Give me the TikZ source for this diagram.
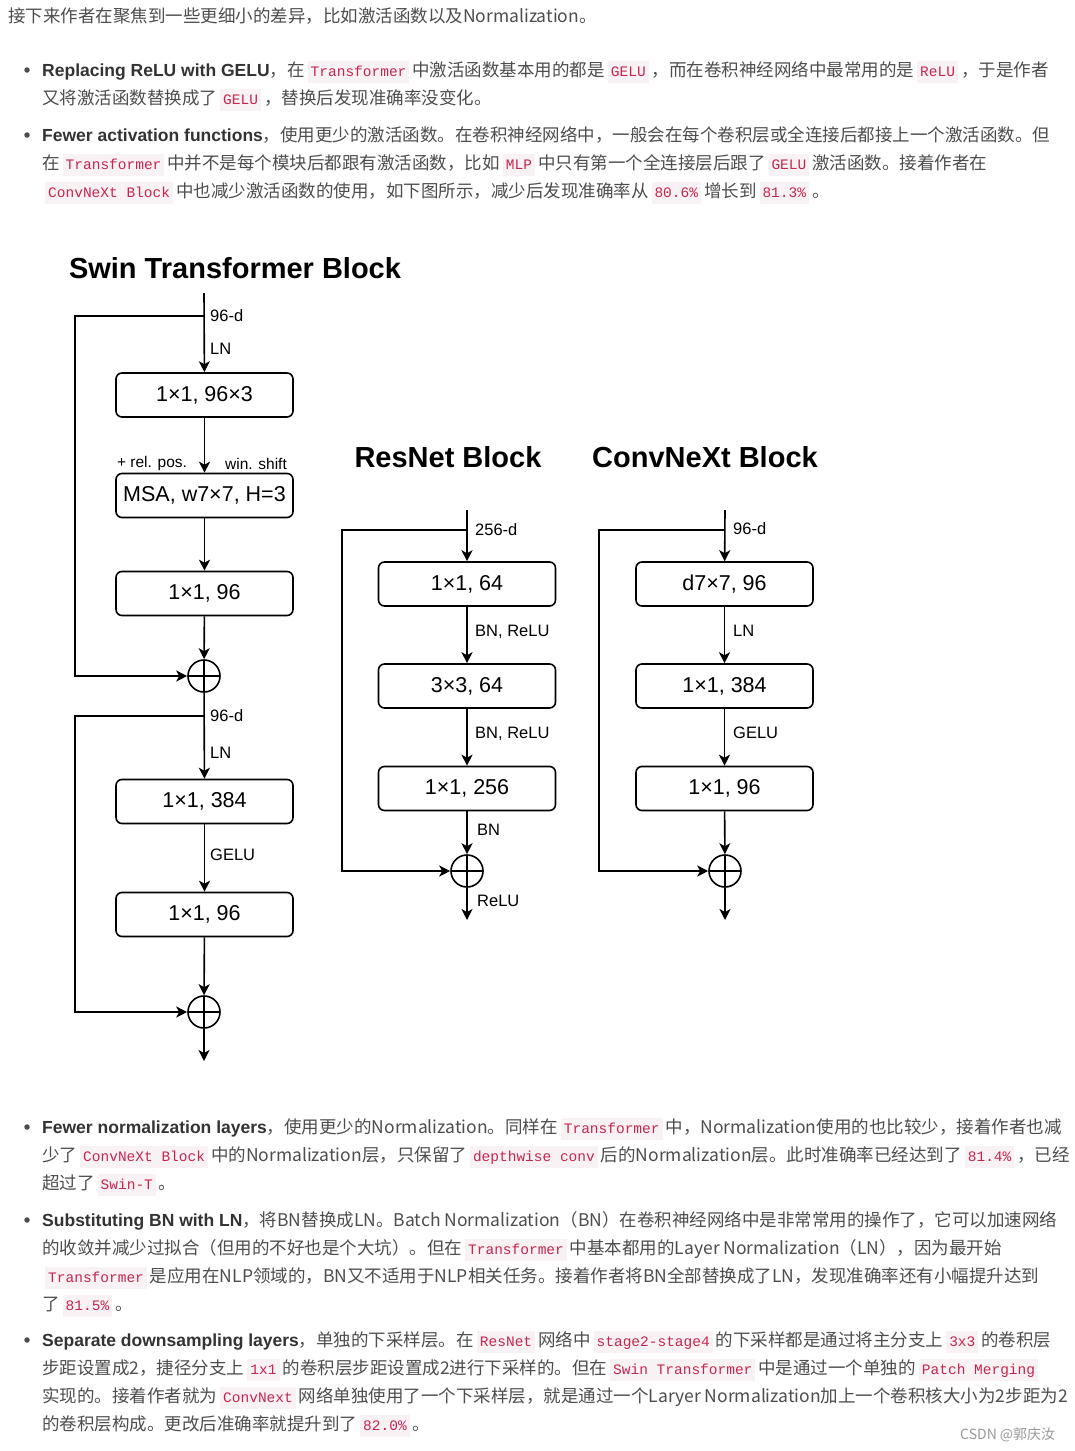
\documentclass[tikz,border=0pt]{standalone}
\usepackage{fontspec}
\setmainfont{Noto Sans CJK SC}
\setmonofont{Liberation Mono}
\newfontfamily\arialfont{Liberation Sans}
\usetikzlibrary{arrows.meta}

\definecolor{bodytext}{HTML}{4D4D4D}
\definecolor{leadtext}{HTML}{333333}
\definecolor{codefg}{HTML}{C7254E}
\definecolor{codebg}{HTML}{F9F2F4}
\definecolor{marktext}{HTML}{999999}

\newcommand\kode[1]{\hspace{3pt}{\setlength\fboxsep{3pt}\colorbox{codebg}{\ttfamily\fontsize{14.5}{16}\selectfont\color{codefg}\vrule height 13pt depth 3pt width 0pt\relax#1}}\hspace{3pt}}
\newcommand\leadin[1]{{\arialfont\bfseries\color{leadtext}#1}}

\begin{document}
\begin{tikzpicture}[x=1pt,y=-1pt,
  txt/.style={anchor=base west,inner sep=0,text=bodytext,font=\fontsize{17.5}{20}\selectfont},
  dot/.style={circle,fill=bodytext,inner sep=0,minimum size=5.5pt},
  ttl/.style={inner sep=0,font=\arialfont\bfseries\fontsize{29}{32}\selectfont},
  blk/.style={draw,rounded corners=6pt,line width=1.6pt,minimum width=177pt,minimum height=44pt,inner sep=0,
    font=\arialfont\fontsize{21.5}{24}\selectfont},
  sum/.style={draw,circle,line width=1.6pt,minimum size=32pt,inner sep=0,
    path picture={\draw[line width=1.6pt] (path picture bounding box.north) -- (path picture bounding box.south)
      (path picture bounding box.west) -- (path picture bounding box.east);}},
  lbl/.style={anchor=west,inner sep=0,font=\arialfont\fontsize{16.5}{18}\selectfont},
  small/.style={inner sep=0,font=\arialfont\fontsize{15.5}{17}\selectfont},
  arr/.style={line width=1.6pt,-{Stealth[length=11pt,width=11pt,inset=3pt]}}]

  \useasboundingbox (0,0) rectangle (1074,1451);
  \fill[white] (0,0) rectangle (1074,1451);

  % text above the figure
  \draw (8,22.5) node[txt] (l0) {接下来作者在聚焦到一些更细小的差异，比如激活函数以及Normalization。};

  \draw (27,70) node[dot] (d1) {};
  \draw (42,76.5) node[txt] (b1a) {\leadin{Replacing ReLU with GELU}，在\kode{Transformer}中激活函数基本用的都是\kode{GELU}，而在卷积神经网络中最常用的是\kode{ReLU}，于是作者};
  \draw (42,104.5) node[txt] (b1b) {又将激活函数替换成了\kode{GELU}，替换后发现准确率没变化。};

  \draw (27,135) node[dot] (d2) {};
  \draw (42,141.5) node[txt] (b2a) {\leadin{Fewer activation functions}，使用更少的激活函数。在卷积神经网络中，一般会在每个卷积层或全连接后都接上一个激活函数。但};
  \draw (42,169.5) node[txt] (b2b) {在\kode{Transformer}中并不是每个模块后都跟有激活函数，比如\kode{MLP}中只有第一个全连接层后跟了\kode{GELU}激活函数。接着作者在};
  \draw (42,197.5) node[txt] (b2c) {\kode{ConvNeXt Block}中也减少激活函数的使用，如下图所示，减少后发现准确率从\kode{80.6\%}增长到\kode{81.3\%}。};

  % Swin Transformer Block
  \draw (235,268) node[ttl] (swint) {Swin Transformer Block};
  \draw (204.5,395) node[blk] (s1) {1×1, 96×3};
  \draw (204.5,495.5) node[blk] (s2) {MSA, w7×7, H=3};
  \draw (204.5,593.5) node[blk] (s3) {1×1, 96};
  \draw (204,676) node[sum] (p1) {};
  \draw (204.5,801.5) node[blk] (s4) {1×1, 384};
  \draw (204.5,914.5) node[blk] (s5) {1×1, 96};
  \draw (204,1012) node[sum] (p2) {};

  \coordinate (sin) at (204,293);
  \coordinate (sk1) at (204,316);
  \coordinate (sk2) at (204,716);
  \coordinate (swl) at (75,0);
  \coordinate (sout) at (204,1061);

  \draw[arr] (sin) -- (s1);
  \draw[arr] (sk1) -- (sk1 -| swl) |- (p1);
  \draw[arr] (s1) -- (s2);
  \draw[arr] (s2) -- (s3);
  \draw[arr] (s3) -- (p1);
  \draw[arr] (p1) -- (s4);
  \draw[arr] (sk2) -- (sk2 -| swl) |- (p2);
  \draw[arr] (s4) -- (s5);
  \draw[arr] (s5) -- (p2);
  \draw[arr] (p2) -- (sout);

  \draw (210,316) node[lbl] (sd1) {96-d};
  \draw (210,349) node[lbl] (sln1) {LN};
  \draw (152,463) node[small] (relpos) {+ rel. pos.};
  \draw (256,464) node[small] (winsh) {win. shift};
  \draw (210,716) node[lbl] (sd2) {96-d};
  \draw (210,753) node[lbl] (sln2) {LN};
  \draw (210,855) node[lbl] (sgelu) {GELU};

  % ResNet Block
  \draw (448,457) node[ttl] (rest) {ResNet Block};
  \draw (467,584) node[blk] (r1) {1×1, 64};
  \draw (467,686) node[blk] (r2) {3×3, 64};
  \draw (467,788.5) node[blk] (r3) {1×1, 256};
  \draw (467,871) node[sum] (rp) {};

  \coordinate (rin) at (467,510);
  \coordinate (rsk) at (467,530);
  \coordinate (rwl) at (342,0);
  \coordinate (rout) at (467,920);

  \draw[arr] (rin) -- (r1);
  \draw[arr] (rsk) -- (rsk -| rwl) |- (rp);
  \draw[arr] (r1) -- (r2);
  \draw[arr] (r2) -- (r3);
  \draw[arr] (r3) -- (rp);
  \draw[arr] (rp) -- (rout);

  \draw (475,530) node[lbl] (rd) {256-d};
  \draw (475,632) node[lbl] (rbn1) {BN, ReLU};
  \draw (475,734) node[lbl] (rbn2) {BN, ReLU};
  \draw (477,830) node[lbl] (rbn3) {BN};
  \draw (477,901) node[lbl] (rrelu) {ReLU};

  % ConvNeXt Block
  \draw (705,457) node[ttl] (cnxt) {ConvNeXt Block};
  \draw (724.5,584) node[blk] (c1) {d7×7, 96};
  \draw (724.5,686) node[blk] (c2) {1×1, 384};
  \draw (724.5,788.5) node[blk] (c3) {1×1, 96};
  \draw (725,871) node[sum] (cp) {};

  \coordinate (cin) at (725,510);
  \coordinate (csk) at (725,530);
  \coordinate (cwl) at (599,0);
  \coordinate (cout) at (725,920);

  \draw[arr] (cin) -- (c1);
  \draw[arr] (csk) -- (csk -| cwl) |- (cp);
  \draw[arr] (c1) -- (c2);
  \draw[arr] (c2) -- (c3);
  \draw[arr] (c3) -- (cp);
  \draw[arr] (cp) -- (cout);

  \draw (733,529) node[lbl] (cd) {96-d};
  \draw (733,631) node[lbl] (cln) {LN};
  \draw (733,733) node[lbl] (cgelu) {GELU};

  % text below the figure
  \draw (27,1127) node[dot] (d3) {};
  \draw (42,1133.5) node[txt] (b3a) {\leadin{Fewer normalization layers}，使用更少的Normalization。同样在\kode{Transformer}中，Normalization使用的也比较少，接着作者也减};
  \draw (42,1161.5) node[txt] (b3b) {少了\kode{ConvNeXt Block}中的Normalization层，只保留了\kode{depthwise conv}后的Normalization层。此时准确率已经达到了\kode{81.4\%}，已经};
  \draw (42,1189.5) node[txt] (b3c) {超过了\kode{Swin-T}。};

  \draw (27,1220) node[dot] (d4) {};
  \draw (42,1226.5) node[txt] (b4a) {\leadin{Substituting BN with LN}，将BN替换成LN。Batch Normalization（BN）在卷积神经网络中是非常常用的操作了，它可以加速网络};
  \draw (42,1254.5) node[txt] (b4b) {的收敛并减少过拟合（但用的不好也是个大坑）。但在\kode{Transformer}中基本都用的Layer Normalization（LN），因为最开始};
  \draw (42,1282.5) node[txt] (b4c) {\kode{Transformer}是应用在NLP领域的，BN又不适用于NLP相关任务。接着作者将BN全部替换成了LN，发现准确率还有小幅提升达到};
  \draw (42,1310.5) node[txt] (b4d) {了\kode{81.5\%}。};

  \draw (27,1340) node[dot] (d5) {};
  \draw (42,1346.5) node[txt] (b5a) {\leadin{Separate downsampling layers}，单独的下采样层。在\kode{ResNet}网络中\kode{stage2-stage4}的下采样都是通过将主分支上\kode{3x3}的卷积层};
  \draw (42,1374.5) node[txt] (b5b) {步距设置成2，捷径分支上\kode{1x1}的卷积层步距设置成2进行下采样的。但在\kode{Swin Transformer}中是通过一个单独的\kode{Patch Merging}};
  \draw (42,1402.5) node[txt] (b5c) {实现的。接着作者就为\kode{ConvNext}网络单独使用了一个下采样层，就是通过一个Laryer Normalization加上一个卷积核大小为2步距为2};
  \draw (42,1430.5) node[txt] (b5d) {的卷积层构成。更改后准确率就提升到了\kode{82.0\%}。};

  \draw (960,1439) node[txt,text=marktext,font=\fontsize{14}{16}\selectfont] (mark) {CSDN @郭庆汝};

\end{tikzpicture}
\end{document}
